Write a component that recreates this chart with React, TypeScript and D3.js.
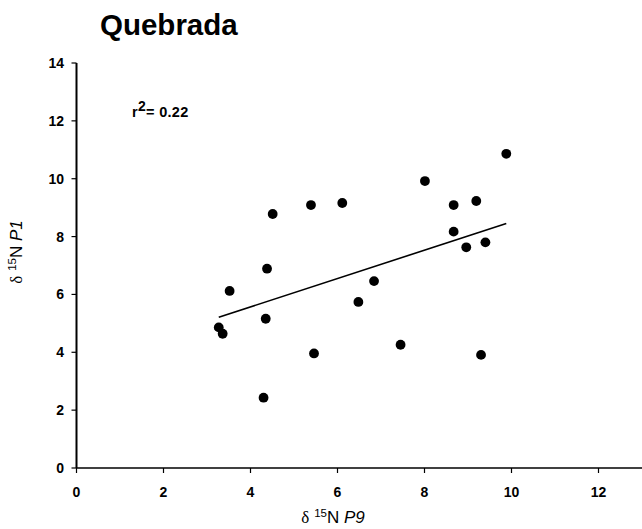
import React from 'react';
import * as d3 from 'd3';

const p9Values = [3.27, 3.36, 3.52, 4.38, 4.35, 4.30, 4.51, 5.39, 5.46, 6.11, 6.48, 6.84, 7.45, 8.01, 8.67, 8.67, 8.96, 9.19, 9.40, 9.30, 9.88];
const p1Values = [4.86, 4.64, 6.12, 6.89, 5.16, 2.43, 8.78, 9.09, 3.96, 9.16, 5.74, 6.46, 4.26, 9.92, 9.09, 8.17, 7.63, 9.23, 7.80, 3.91, 10.86];
const xTicks = [0, 2, 4, 6, 8, 10, 12];
const yTicks = [0, 2, 4, 6, 8, 10, 12, 14];
const fitSlope = 0.49;
const fitIntercept = 3.61;
const rSquaredLabel = '0.22';
const titleText = 'Quebrada';

const W = 642;
const H = 529;

export default function App() {
  const x = d3.scaleLinear().domain([0, 13]).range([76.5, 642]);
  const y = d3.scaleLinear().domain([0, 14]).range([468, 63]);
  const pts = p9Values.map((v, i) => ({ x: v, y: p1Values[i] }));
  const xMin = d3.min(p9Values) as number;
  const xMax = d3.max(p9Values) as number;
  const line = d3.line<number>().x((d) => x(d)).y((d) => y(fitIntercept + fitSlope * d));
  const bold = { fontFamily: 'Liberation Sans, Arial, sans-serif', fontWeight: 700 };
  return (
    <svg width={W} height={H} style={{ position: 'absolute', left: 0, top: 0, background: '#fff' }}>
      <text x={100} y={35} fontSize={29.5} {...bold} fill="#000">{titleText}</text>
      {/* y axis */}
      <line x1={x(0)} x2={x(0)} y1={y(0)} y2={y(14)} stroke="#000" strokeWidth={2} />
      {yTicks.map((t) => (
        <g key={'y' + t}>
          <line x1={x(0) - 5} x2={x(0)} y1={y(t)} y2={y(t)} stroke="#000" strokeWidth={1.2} />
          <text x={x(0) - 12.5} y={y(t)} dy="0.36em" textAnchor="end" fontSize={14} {...bold}>{t}</text>
        </g>
      ))}
      {/* x axis */}
      <line x1={x(0)} x2={W} y1={y(0)} y2={y(0)} stroke="#000" strokeWidth={1.6} />
      {xTicks.map((t) => (
        <g key={'x' + t}>
          <line x1={x(t)} x2={x(t)} y1={y(0)} y2={y(0) + 5} stroke="#000" strokeWidth={1.2} />
          <text x={x(t)} y={y(0) + 29} textAnchor="middle" fontSize={14} {...bold}>{t}</text>
        </g>
      ))}
      {/* fit line */}
      <path d={line([xMin, xMax]) || ''} stroke="#000" strokeWidth={1.6} fill="none" />
      {pts.map((p, i) => (
        <circle key={i} cx={x(p.x)} cy={y(p.y)} r={4.9} fill="#000" />
      ))}
      <text x={132} y={117} fontSize={14.5} {...bold} letterSpacing={0.3}>
        r<tspan dy={-6} fontSize={14}>2</tspan><tspan dy={6}>= {rSquaredLabel}</tspan>
      </text>
      {/* axis titles */}
      <text x={333} y={523} textAnchor="middle" fontSize={17} fontFamily="Liberation Sans, Arial, sans-serif">
        <tspan fontFamily="Liberation Serif, serif">δ</tspan>
        <tspan dx={5} dy={-6} fontSize={11.5}>15</tspan>
        <tspan dy={6}>N </tspan>
        <tspan fontStyle="italic">P9</tspan>
      </text>
      <text transform={`translate(22, ${252}) rotate(-90)`} textAnchor="middle" fontSize={17} fontFamily="Liberation Sans, Arial, sans-serif">
        <tspan fontFamily="Liberation Serif, serif">δ</tspan>
        <tspan dx={5} dy={-6} fontSize={11.5}>15</tspan>
        <tspan dy={6}>N </tspan>
        <tspan fontStyle="italic">P1</tspan>
      </text>
    </svg>
  );
}
